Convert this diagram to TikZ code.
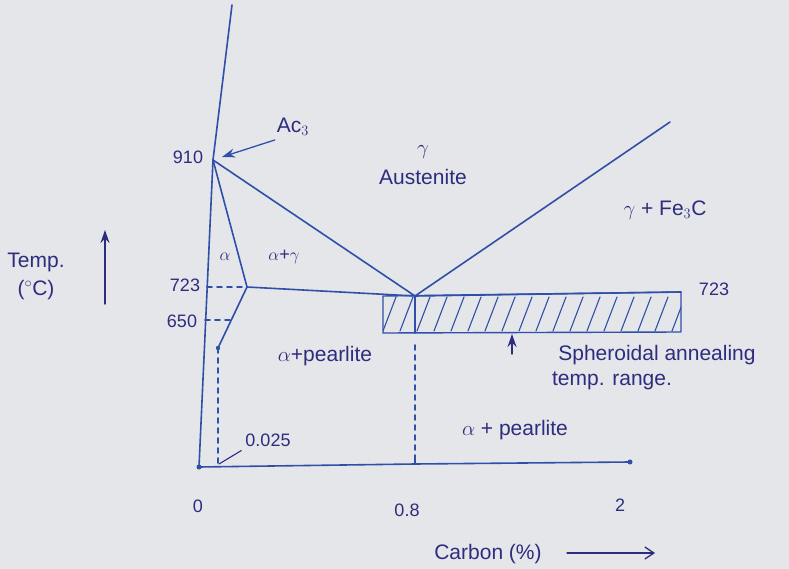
\documentclass[tikz,border=0pt]{standalone}
\usepackage{fontspec}
\setmainfont{Liberation Sans}
\usetikzlibrary{arrows.meta}
\definecolor{ink}{HTML}{2F4FA8}
\definecolor{txt}{HTML}{2E2C7E}
\definecolor{paper}{HTML}{E4E6EA}
\begin{document}
\begin{tikzpicture}[x=1pt,y=-1pt,
  line/.style={draw=ink, line width=1.6pt, line cap=round, line join=round},
  dashline/.style={line, dash pattern=on 5pt off 5pt},
  hatch/.style={draw=ink, line width=1.1pt, line cap=round},
  lbl/.style={text=txt, font=\fontsize{18}{20}\selectfont, inner sep=0pt},
  big/.style={lbl, font=\fontsize{21}{24}\selectfont},
  tip/.style={-{Stealth[length=13pt,width=9pt]}},
  ]
\fill[paper] (0,0) rectangle (789,569);
\useasboundingbox (0,0) rectangle (789,569);

% key points
\coordinate (top) at (232,5);
\coordinate (A910) at (213,160);
\coordinate (O) at (199,467);
\coordinate (xend) at (630,462);
\coordinate (xtick) at (415,464);
\coordinate (xtickt) at (415,457);
\coordinate (P723) at (247,287);
\coordinate (E) at (415,296);
\coordinate (R723) at (681,292);
\coordinate (acmEnd) at (670,122);
\coordinate (aEnd) at (218,348);
\coordinate (aBot) at (218,465);
\coordinate (ax723) at (207,287);
\coordinate (ax650) at (205,320);
\coordinate (p650) at (231,320);
\coordinate (b1) at (383,296);
\coordinate (b3) at (681,332);
\coordinate (b4) at (383,333);
\coordinate (Ebot) at (415,333);
\coordinate (Edash) at (415,462);

% axes
\draw[line] (top) -- (A910) -- (O) -- (xtick) -- (xend);
\draw[line] (xtick) -- (xtickt);
\fill[ink] (xend) circle (2.5pt);
\fill[ink] (O) circle (2.5pt);

% phase lines
\draw[line] (A910) -- (E) -- (acmEnd);
\draw[line] (A910) -- (P723) -- (E) -- (R723);
\draw[line] (P723) -- (aEnd);
\fill[ink] (aEnd) circle (2.2pt);
\draw[dashline] (aEnd) -- (aBot);
\draw[dashline] (ax723) -- (P723);
\draw[dashline] (ax650) -- (p650);

% hatched box
\draw[line, line width=1.4pt] (b1) -- (R723) -- (b3) -- (b4) -- cycle;
\begin{scope}
  \clip (b1) -- (R723) -- (b3) -- (b4) -- cycle;
  \foreach \x in {383,400,...,690} {
    \draw[hatch] (\x,331) -- (\x+13,297);
  }
\end{scope}
\draw[line] (E) -- (Ebot);
\draw[dashline] (Ebot) ++(0,12) -- (Edash);

% labels
\node[lbl] (n910) at (188,157) {910};
\node[big] (ac3) at (293,127) {Ac$_3$};
\coordinate (ac3tip) at (222,157);
\draw[line, line width=1.3pt, tip] (ac3.south west) ++(-2,4) -- (ac3tip);

\node[big] (gam) at (423,152) {$\gamma$};
\node[big] (aus) at (423,177) {Austenite};
\node[big] (gfe) at (665,210) {$\gamma$ + Fe$_3$C};
\node[lbl] (alp) at (225,257) {$\alpha$};
\node[lbl] (apg) at (284,257) {$\alpha$+$\gamma$};

\node[big] (temp) at (36,262) {Temp.};
\node[big] (degc) at (36,290) {($^\circ$C)};
\coordinate (tb) at (105,304);
\coordinate (tt) at (105,230);
\draw[line, line width=1.4pt, draw=txt, tip] (tb) -- (tt);

\node[lbl] (n723) at (185,285) {723};
\node[lbl] (n650) at (182,321) {650};
\node[lbl] (r723) at (714,289) {723};

\node[big] (ap1) at (325,356) {$\alpha$+pearlite};
\node[big] (sph) at (657,355) {Spheroidal annealing};
\node[big] (tr) at (612,381) {temp. range.};
\coordinate (sab) at (512,354);
\coordinate (sat) at (512,334);
\draw[line, draw=txt, line width=1.4pt, tip] (sab) -- (sat);

\node[lbl] (n025) at (268,440) {0.025};
\coordinate (c025) at (219,464);
\draw[line, line width=1.1pt, draw=txt] (n025.south west) ++(-4,4) -- (c025);

\node[big] (ap2) at (515,430) {$\alpha$ + pearlite};

\node[lbl] (x0) at (198,506) {0};
\node[lbl] (x08) at (407,510) {0.8};
\node[lbl] (x2) at (620,505) {2};

\node[big] (carb) at (488,554) {Carbon (\%)};
\coordinate (ca1) at (567,553);
\coordinate (ca2) at (655,553);
\draw[line, draw=txt, line width=1.3pt, -{Straight Barb[length=9pt,width=12pt]}] (ca1) -- (ca2);
\end{tikzpicture}
\end{document}
